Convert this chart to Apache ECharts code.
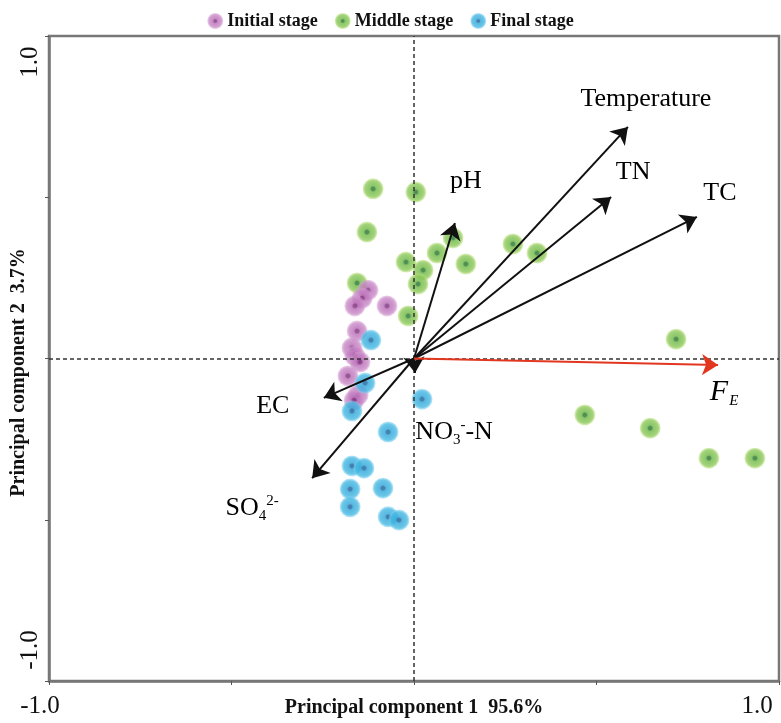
<!DOCTYPE html>
<html><head><meta charset="utf-8">
<script src="https://cdn.jsdelivr.net/npm/echarts/dist/echarts.min.js"></script>
<style>html,body{margin:0;padding:0;background:#fff}#c{width:781px;height:723px}</style>
</head><body><div id="c"></div>
<script>
// ---------- data ----------
const stageNames = ['Initial stage', 'Middle stage', 'Final stage'];
const initialStage = [
  [-0.126, 0.212], [-0.142, 0.187], [-0.162, 0.163], [-0.074, 0.163], [-0.156, 0.085],
  [-0.170, 0.033], [-0.162, 0.008], [-0.148, -0.011], [-0.181, -0.054], [-0.153, -0.113], [-0.164, -0.129]
];
const middleStage = [
  [-0.112, 0.526], [0.005, 0.516], [-0.129, 0.392], [0.107, 0.374], [0.063, 0.327], [-0.022, 0.299],
  [0.025, 0.274], [0.011, 0.231], [-0.156, 0.234], [-0.016, 0.132], [0.142, 0.293], [0.271, 0.355],
  [0.337, 0.327], [0.718, 0.060], [0.468, -0.175], [0.647, -0.216], [0.808, -0.309], [0.934, -0.309]
];
const finalStage = [
  [-0.118, 0.057], [-0.134, -0.076], [-0.170, -0.163], [0.022, -0.126], [-0.071, -0.228], [-0.170, -0.333],
  [-0.137, -0.340], [-0.175, -0.405], [-0.085, -0.402], [-0.175, -0.460], [-0.071, -0.491], [-0.041, -0.501]
];
const variableNames = ['Temperature', 'TN', 'TC', 'pH', 'EC', 'SO4', 'NO3N', 'FE'];
const loadingX = [0.586, 0.540, 0.775, 0.112, -0.247, -0.279, 0.003, 0.833];
const loadingY = [0.718, 0.501, 0.439, 0.420, -0.122, -0.371, -0.045, -0.020];
const axisMin = -1, axisMax = 1, axisStep = 0.5;
const tickLabels = {'-1': '-1.0', '1': '1.0'};
const xAxisTitle = 'Principal component 1  95.6%';
const yAxisTitle = 'Principal component 2  3.7%';

// ---------- styles ----------
const serif = '"Liberation Serif","Times New Roman",serif';
const ink = '#000';
const labelOffsets = {
  Temperature: [18, -28], TN: [22, -25], TC: [23, -24], pH: [11, -42],
  EC: [-51, 8], SO4: [-60, 30], NO3N: [39, 59], FE: [6, 27]
};
const labelText = {
  Temperature: '{n|Temperature}', TN: '{n|TN}', TC: '{n|TC}', pH: '{n|pH}', EC: '{n|EC}',
  SO4: '{n|SO}{sub|4}{sup|2-}', NO3N: '{n|NO}{sub|3}{sup|-}{n|-N}', FE: '{fi|F}{fs|E}'
};
function pointFill(dark, mid, light, rim) {
  return {type: 'radial', x: 0.5, y: 0.5, r: 0.5, colorStops: [
    {offset: 0, color: dark}, {offset: 0.16, color: dark}, {offset: 0.3, color: mid},
    {offset: 0.78, color: light}, {offset: 1, color: rim}]};
}
const stageColors = [
  pointFill('#7d2c7b', '#b86bb5', '#c98ac8', 'rgba(214,160,212,0.55)'),
  pointFill('#23752a', '#6fb844', '#8cc95a', 'rgba(190,225,120,0.6)'),
  pointFill('#15609c', '#2fa6d8', '#45b9e3', 'rgba(130,210,240,0.6)')
];
const noBorder = {textBorderWidth: 0, textShadowBlur: 0};

const chart = echarts.init(document.getElementById('c'));
const stageData = [initialStage, middleStage, finalStage];
const drawOrder = [1, 0, 2];
const series = [];
drawOrder.forEach(i => {
  series.push({
    name: stageNames[i], type: 'scatter', data: stageData[i], symbol: 'circle', symbolSize: 21,
    itemStyle: {color: stageColors[i]}, z: 3
  });
});
// zero lines
series.push({
  type: 'line', data: [], silent: true,
  markLine: {
    silent: true, symbol: 'none', label: {show: false},
    lineStyle: {color: '#333', width: 1.5, type: [4, 3]},
    data: [{xAxis: 0}, {yAxis: 0}]
  }, z: 2
});
// arrows
const blackArrows = [], redArrows = [], tips = [];
variableNames.forEach((n, i) => {
  const item = {coords: [[0, 0], [loadingX[i], loadingY[i]]]};
  if (n === 'FE') redArrows.push(item); else blackArrows.push(item);
  tips.push({value: [loadingX[i], loadingY[i]], name: n,
    label: {offset: labelOffsets[n], formatter: labelText[n]}});
});
series.push({
  type: 'lines', coordinateSystem: 'cartesian2d', data: blackArrows, silent: true,
  symbol: ['none', 'arrow'], symbolSize: [0, 16],
  lineStyle: {color: '#111', width: 2, opacity: 1, curveness: 0}, z: 5
});
series.push({
  type: 'lines', coordinateSystem: 'cartesian2d', data: redArrows, silent: true,
  symbol: ['none', 'arrow'], symbolSize: [0, 16],
  lineStyle: {color: '#e2371f', width: 2, opacity: 1, curveness: 0}, z: 5
});
series.push({
  type: 'scatter', data: tips, symbolSize: 0, silent: true, z: 6,
  itemStyle: {color: ink, opacity: 1},
  label: Object.assign({
    show: true, position: 'inside', color: ink, opacity: 1,
    rich: {
      n: Object.assign({fontFamily: serif, fontSize: 26, color: ink}, noBorder),
      sub: Object.assign({fontFamily: serif, fontSize: 15, color: ink, padding: [16, 0, 0, 0]}, noBorder),
      sup: Object.assign({fontFamily: serif, fontSize: 15, color: ink, padding: [0, 0, 14, 0]}, noBorder),
      fi: Object.assign({fontFamily: serif, fontSize: 30, fontStyle: 'italic', color: ink}, noBorder),
      fs: Object.assign({fontFamily: serif, fontSize: 15, fontStyle: 'italic', color: ink, padding: [18, 0, 0, 1]}, noBorder)
    }
  }, noBorder)
});

chart.setOption({
  animation: false,
  backgroundColor: '#fff',
  legend: {
    data: stageNames, top: 7, left: 'center', itemGap: 17, itemWidth: 18, itemHeight: 16,
    icon: 'circle',
    textStyle: {fontFamily: serif, fontWeight: 'bold', fontSize: 18, color: '#111', padding: [0, 0, 0, -2]}
  },
  grid: {left: 49, right: 2, top: 36, bottom: 42, show: true, borderColor: '#777', borderWidth: 2.5,
    containLabel: false, outerBoundsMode: 'none'},
  xAxis: {
    type: 'value', min: axisMin, max: axisMax, interval: axisStep,
    name: xAxisTitle, nameLocation: 'middle', nameGap: 17, nameMoveOverlap: false,
    nameTextStyle: {fontFamily: serif, fontWeight: 'bold', fontSize: 20, color: '#111'},
    axisLine: {show: true, onZero: false, lineStyle: {color: '#777', width: 2.5}},
    axisTick: {show: true, inside: false, length: 4, lineStyle: {color: '#555'}},
    splitLine: {show: false},
    axisLabel: {
      fontFamily: serif, fontSize: 25, color: '#111', margin: 13,
      formatter: v => v === axisMin ? '{lo|' + tickLabels[String(v)] + '}' :
        v === axisMax ? '{hi|' + tickLabels[String(v)] + '}' : '',
      rich: {
        lo: {fontFamily: serif, fontSize: 25, color: '#111', padding: [0, 18, 0, 0]},
        hi: {fontFamily: serif, fontSize: 25, color: '#111', padding: [0, 44, 0, 0]}
      }
    }
  },
  yAxis: {
    type: 'value', min: axisMin, max: axisMax, interval: axisStep,
    name: yAxisTitle, nameLocation: 'middle', nameGap: 20, nameRotate: 90, nameMoveOverlap: false,
    nameTextStyle: {fontFamily: serif, fontWeight: 'bold', fontSize: 20, color: '#111', padding: [0, 28, 0, 0]},
    axisLine: {show: true, onZero: false, lineStyle: {color: '#777', width: 2.5}},
    axisTick: {show: true, inside: false, length: 4, lineStyle: {color: '#555'}},
    splitLine: {show: false},
    axisLabel: {
      fontFamily: serif, fontSize: 25, color: '#111', margin: 6, rotate: 90,
      formatter: v => v === axisMin ? '{lo|' + tickLabels[String(v)] + '}' :
        v === axisMax ? '{hi|' + tickLabels[String(v)] + '}' : '',
      rich: {
        lo: {fontFamily: serif, fontSize: 25, color: '#111', padding: [0, 0, 0, 62]},
        hi: {fontFamily: serif, fontSize: 25, color: '#111', padding: [0, 52, 0, 0]}
      }
    }
  },
  series: series
});
</script>
</body></html>
